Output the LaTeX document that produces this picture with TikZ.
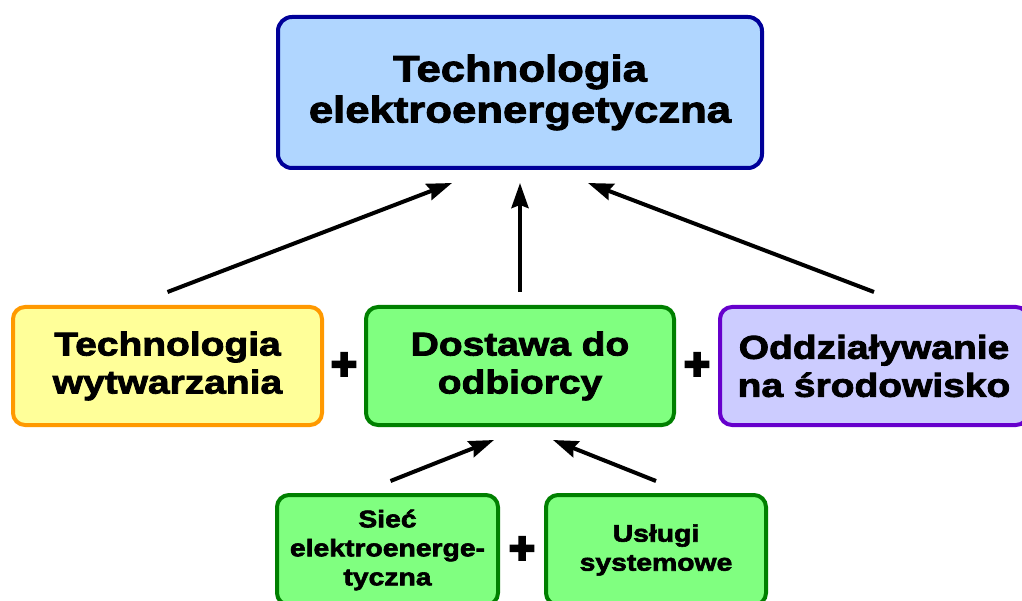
\documentclass[tikz,border=0pt]{standalone}
\usepackage{fontspec}
\setmainfont{Liberation Sans}
\newfontfamily\boxfont{Liberation Sans Bold}[FakeStretch=1.18, FakeBold=2.5]
\newfontfamily\plusfont{Liberation Sans Bold}[FakeBold=6]
\usetikzlibrary{positioning, calc, arrows.meta}
\usepackage{xcolor}

\definecolor{topfill}{HTML}{B0D6FF}
\definecolor{topline}{HTML}{000099}
\definecolor{genfill}{HTML}{FFFF99}
\definecolor{genline}{HTML}{FF9900}
\definecolor{supfill}{HTML}{80FF80}
\definecolor{supline}{HTML}{008000}
\definecolor{envfill}{HTML}{CCCCFF}
\definecolor{envline}{HTML}{6600CC}

\begin{document}
\begin{tikzpicture}[x=1pt, y=-1pt,
  block/.style={rectangle, line width=4pt, rounded corners=12pt,
                align=center, inner sep=0pt},
  arrow/.style={-{Stealth[length=25pt, width=17pt, inset=3pt]}, line width=4pt},
  plussign/.style={font=\plusfont\fontsize{44}{44}\selectfont, inner sep=0pt},
  node distance=40pt
]
\useasboundingbox (0,0) rectangle (1022,601);
\clip (0,0) rectangle (1022,601);

% Top — result
\node[block, draw=topline, fill=topfill, minimum width=484pt, minimum height=151pt,
      rounded corners=14pt, font=\boxfont\fontsize{37}{41}\selectfont]
      (tech) at (520,92.5) {Technologia\\elektroenergetyczna};

% Row 2 — components
\node[block, draw=supline, fill=supfill, minimum width=308pt, minimum height=118pt,
      font=\boxfont\fontsize{33}{38}\selectfont, below=135pt of tech]
      (supply) {Dostawa do\\odbiorcy};
\node[block, draw=genline, fill=genfill, minimum width=309pt, minimum height=118pt,
      font=\boxfont\fontsize{33}{38}\selectfont, left=40pt of supply]
      (gen) {Technologia\\wytwarzania};
\node[block, draw=envline, fill=envfill, minimum width=308pt, minimum height=118pt,
      font=\boxfont\fontsize{33}{38}\selectfont, right=42pt of supply]
      (env) {Oddziaływanie\\na środowisko};

% Row 3 — parts of the supply
\node[block, draw=supline, fill=supfill, minimum width=221pt, minimum height=110pt,
      font=\boxfont\fontsize{24}{29}\selectfont, below=66pt of supply, xshift=-132.5pt]
      (grid) {Sieć\\elektroenerge-\\tyczna};
\node[block, draw=supline, fill=supfill, minimum width=220pt, minimum height=110pt,
      font=\boxfont\fontsize{24}{29}\selectfont, below=66pt of supply, xshift=136pt]
      (serv) {Usługi\\systemowe};

% Plus signs
\node[plussign] (plusA) at ($(gen.east)!0.5!(supply.west)$) {+};
\node[plussign] (plusB) at ($(supply.east)!0.5!(env.west)$) {+};
\node[plussign] (plusC) at ($(grid.east)!0.5!(serv.west)$) {+};

% Arrows
\draw[arrow] ([yshift=13pt]gen.north) -- ([xshift=-68pt, yshift=-13pt]tech.south);
\draw[arrow] ([yshift=13pt]supply.north) -- ([yshift=-13pt]tech.south);
\draw[arrow] ([yshift=13pt]env.north) -- ([xshift=68pt, yshift=-13pt]tech.south);
\draw[arrow] ([xshift=3pt, yshift=12pt]grid.north) -- ([xshift=-26pt, yshift=-13pt]supply.south);
\draw[arrow] ([yshift=12pt]serv.north) -- ([xshift=33pt, yshift=-13pt]supply.south);

\end{tikzpicture}
\end{document}
